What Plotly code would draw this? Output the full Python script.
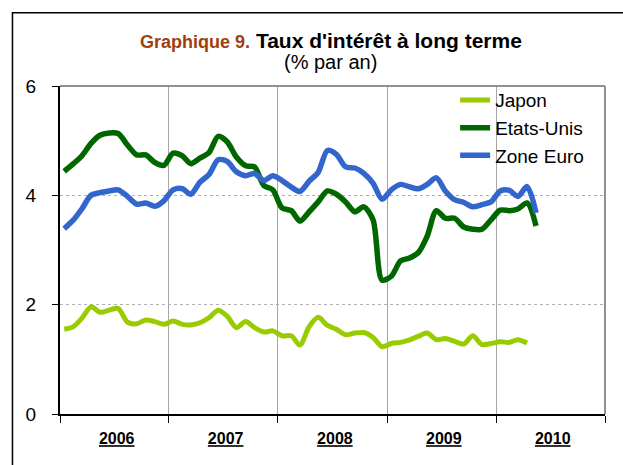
import plotly.graph_objects as go

# Monthly observations, Jan 2006 .. May 2010
months = [f"{2006 + i // 12}-{i % 12 + 1:02d}-15" for i in range(53)]

japon = [1.55, 1.60, 1.75, 1.96, 1.86, 1.90, 1.93, 1.68, 1.65, 1.72, 1.69, 1.64,
         1.70, 1.64, 1.63, 1.67, 1.76, 1.90, 1.79, 1.58, 1.69, 1.58, 1.50, 1.52,
         1.43, 1.43, 1.26, 1.60, 1.77, 1.62, 1.55, 1.45, 1.48, 1.49, 1.40, 1.23,
         1.29, 1.31, 1.35, 1.42, 1.48, 1.36, 1.38, 1.33, 1.28, 1.43, 1.27, 1.29,
         1.32, 1.31, 1.36, 1.30, None]

etats_unis = [4.44, 4.58, 4.72, 4.95, 5.10, 5.14, 5.13, 4.92, 4.74, 4.74, 4.60, 4.55,
              4.77, 4.72, 4.58, 4.68, 4.78, 5.08, 4.98, 4.70, 4.54, 4.52, 4.18, 4.10,
              3.77, 3.72, 3.53, 3.70, 3.88, 4.08, 4.02, 3.88, 3.70, 3.79, 3.55, 2.45,
              2.52, 2.80, 2.85, 2.95, 3.25, 3.72, 3.58, 3.58, 3.42, 3.38, 3.38, 3.55,
              3.73, 3.72, 3.75, 3.86, 3.44]

zone_euro = [3.39, 3.55, 3.75, 4.00, 4.05, 4.08, 4.10, 3.98, 3.84, 3.86, 3.80, 3.90,
             4.10, 4.12, 4.02, 4.24, 4.38, 4.65, 4.62, 4.43, 4.36, 4.40, 4.27, 4.36,
             4.27, 4.15, 4.07, 4.26, 4.42, 4.82, 4.75, 4.52, 4.50, 4.40, 4.22, 3.93,
             4.10, 4.20, 4.16, 4.12, 4.20, 4.32, 4.08, 3.92, 3.87, 3.79, 3.83, 3.88,
             4.08, 4.09, 3.98, 4.16, 3.68]

years = ["2006", "2007", "2008", "2009", "2010"]
year_mid = [f"{y}-07-10" for y in years]
year_start = [f"{y}-01-01" for y in years] + ["2011-01-01"]

FONT = "Liberation Sans, Arial, sans-serif"

fig = go.Figure()
fig.add_trace(go.Scatter(x=months, y=japon, name="Japon", mode="lines",
                         line=dict(color="#99CC00", width=5, shape="spline", smoothing=0.8)))
fig.add_trace(go.Scatter(x=months, y=etats_unis, name="Etats-Unis", mode="lines",
                         line=dict(color="#006600", width=5.5, shape="spline", smoothing=0.8)))
fig.add_trace(go.Scatter(x=months, y=zone_euro, name="Zone Euro", mode="lines",
                         line=dict(color="#3366CC", width=5.5, shape="spline", smoothing=0.8)))

fig.update_layout(
    width=623, height=465,
    margin=dict(l=60, r=18, t=86, b=50.5),
    paper_bgcolor="white", plot_bgcolor="white",
    font=dict(family=FONT, color="black", size=19),
    showlegend=True,
    legend=dict(x=0.725, y=1.015, xanchor="left", yanchor="top",
                bgcolor="rgba(0,0,0,0)", font=dict(size=19, family=FONT),
                itemwidth=30, tracegroupgap=0),
    xaxis=dict(
        type="date",
        range=["2006-01-01", "2011-01-01"],
        tickmode="array", tickvals=year_mid,
        ticktext=[f"<u><b>{y}</b></u>" for y in years],
        tickfont=dict(size=16, family=FONT),
        ticks="", showgrid=False,
        ticklabelstandoff=9,
        showline=True, linecolor="black", linewidth=2,
        mirror=False, zeroline=False,
        minor=dict(tickmode="array", tickvals=year_start, ticks="outside",
                   ticklen=7, tickcolor="black", tickwidth=1,
                   showgrid=True, gridcolor="#a6a6a6", gridwidth=1),
    ),
    yaxis=dict(
        range=[0, 6], tickmode="array", tickvals=[0, 2, 4, 6],
        ticks="outside", ticklen=6, tickcolor="black",
        ticklabelstandoff=12,
        tickfont=dict(size=19),
        showgrid=True, gridcolor="#b0b0b0", griddash="dot", gridwidth=1,
        showline=True, linecolor="black", linewidth=2,
        zeroline=False,
    ),
    annotations=[
        dict(xref="paper", yref="paper", x=0.497, y=1.140, xanchor="center", yanchor="middle",
             showarrow=False,
             text="<span style='color:#A0400F;font-size:18px'><b>Graphique 9.</b></span> <b>Taux d'intérêt à long terme</b>",
             font=dict(size=21, color="black", family=FONT)),
        dict(xref="paper", yref="paper", x=0.497, y=1.073, xanchor="center", yanchor="middle",
             showarrow=False, text="(% par an)",
             font=dict(size=20, color="black", family=FONT)),
    ],
    shapes=[
        # grey top and right frame of the plot area
        dict(type="line", xref="paper", yref="paper", x0=0, x1=1, y0=1, y1=1,
             line=dict(color="#909090", width=2)),
        dict(type="line", xref="paper", yref="paper", x0=1, x1=1, y0=0, y1=1,
             line=dict(color="#909090", width=2)),
        # outer chart border (extends beyond the page)
        dict(type="rect", xref="paper", yref="paper", x0=-0.0872, x1=1.2, y0=-0.4, y1=1.2237,
             line=dict(color="black", width=1.5), layer="below"),
    ],
)

fig.write_html("out.html", config={"displayModeBar": False},
               post_script="document.body.style.margin='0px';")
